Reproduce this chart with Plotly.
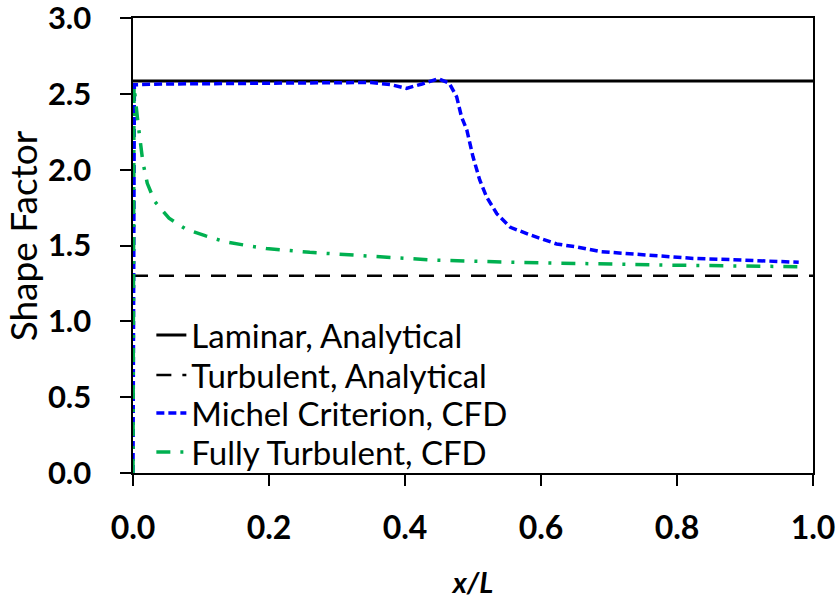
import plotly.graph_objects as go

# ---- data ----
x_laminar = [0.0, 1.0]
h_laminar = [2.585, 2.585]

x_turb = [0.0, 1.0]
h_turb = [1.30, 1.30]

x_michel = [0.0, 0.002, 0.05, 0.15, 0.25, 0.35, 0.38, 0.402, 0.425, 0.449, 0.465,
            0.476, 0.483, 0.491, 0.500, 0.510, 0.520, 0.535, 0.555, 0.584, 0.623,
            0.653, 0.687, 0.75, 0.824, 0.898, 0.979]
h_michel = [0.0, 2.56, 2.565, 2.57, 2.57, 2.575, 2.56, 2.536, 2.565, 2.60, 2.57,
            2.48, 2.35, 2.26, 2.085, 1.93, 1.82, 1.71, 1.62, 1.57, 1.51,
            1.49, 1.46, 1.437, 1.415, 1.404, 1.389]

x_fully = [0.0, 0.0015, 0.007, 0.011, 0.0145, 0.021, 0.032, 0.053, 0.078, 0.107,
           0.135, 0.167, 0.196, 0.26, 0.319, 0.441, 0.564, 0.625, 0.8, 0.98]
h_fully = [0.0, 2.55, 2.32, 2.18, 2.05, 1.91, 1.79, 1.68, 1.607, 1.563,
           1.525, 1.50, 1.48, 1.455, 1.437, 1.404, 1.389, 1.383, 1.37, 1.36]

x_ticks = [0.0, 0.2, 0.4, 0.6, 0.8, 1.0]
y_ticks = [0.0, 0.5, 1.0, 1.5, 2.0, 2.5, 3.0]

FONT = "Lato"
PAD = "\u00a0" * 3

fig = go.Figure()
fig.add_trace(go.Scatter(x=x_laminar, y=h_laminar, mode="lines",
                         name="Laminar, Analytical", legend="legend",
                         line=dict(color="black", width=3)))
fig.add_trace(go.Scatter(x=x_turb, y=h_turb, mode="lines",
                         name="Turbulent, Analytical", legend="legend2",
                         line=dict(color="black", width=2.5, dash="15px,11px")))
fig.add_trace(go.Scatter(x=x_michel, y=h_michel, mode="lines",
                         name="Michel Criterion, CFD", legend="legend3",
                         line=dict(color="#0000FF", width=3.5, dash="8px,4px")))
fig.add_trace(go.Scatter(x=x_fully, y=h_fully, mode="lines",
                         name="Fully Turbulent, CFD", legend="legend4",
                         line=dict(color="#00B050", width=3.5, dash="14px,10px,3px,10px")))

leg_font = dict(family=FONT, size=33)
def leg(yc):
    return dict(x=0.027, y=yc, xanchor="left", yanchor="middle",
                bgcolor="rgba(0,0,0,0)", font=leg_font, itemwidth=30,
                borderwidth=0)

fig.update_layout(
    width=839, height=603,
    margin=dict(l=133, r=26, t=18, b=130, autoexpand=False),
    paper_bgcolor="white", plot_bgcolor="white",
    font=dict(family=FONT, color="black"),
    showlegend=True,
    legend=leg(0.303), legend2=leg(0.215), legend3=leg(0.132), legend4=leg(0.046),
)
fig.update_xaxes(
    range=[0, 1], tickvals=x_ticks, ticktext=[f"{v:.1f}" for v in x_ticks],
    showline=True, linecolor="black", linewidth=2, mirror=True,
    ticks="outside", ticklen=11, tickwidth=2, tickcolor="black",
    showgrid=False, zeroline=False, ticklabeloverflow="allow",
    tickfont=dict(family=FONT, size=32, weight="bold"),
    ticklabelstandoff=15,
    title=dict(text="x/L", font=dict(family=FONT, size=29, weight="bold", style="italic"),
               standoff=27),
)
fig.update_yaxes(
    range=[0, 3], tickvals=y_ticks, ticktext=[f"{v:.1f}{PAD}" for v in y_ticks],
    showline=True, linecolor="black", linewidth=2, mirror=True,
    ticks="outside", ticklen=11, tickwidth=2, tickcolor="black",
    showgrid=False, zeroline=False, ticklabeloverflow="allow",
    tickfont=dict(family=FONT, size=31, weight="bold"),
    title=dict(text="\u200b\u00a0\u00a0Shape Factor", font=dict(family=FONT, size=37), standoff=3),
)

fig.write_html("out.html", config={"displayModeBar": False},
               post_script="document.body.style.margin='0';")
